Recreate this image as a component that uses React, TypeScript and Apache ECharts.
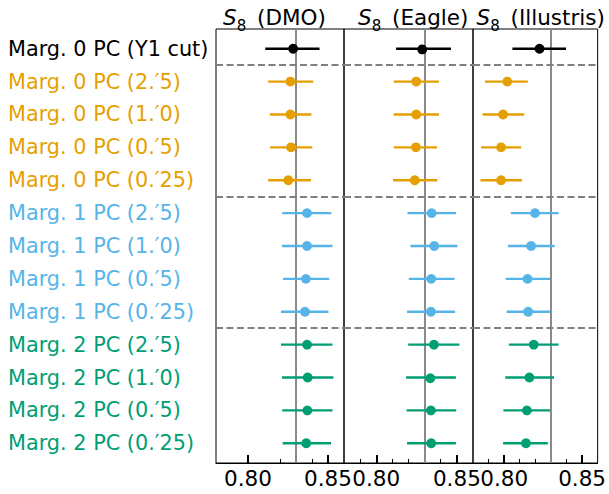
import React, { useEffect, useRef } from "react";
import * as echarts from "echarts";

const rowLabels = [
  "Marg. 0 PC (Y1 cut)",
  "Marg. 0 PC (2.′5)",
  "Marg. 0 PC (1.′0)",
  "Marg. 0 PC (0.′5)",
  "Marg. 0 PC (0.′25)",
  "Marg. 1 PC (2.′5)",
  "Marg. 1 PC (1.′0)",
  "Marg. 1 PC (0.′5)",
  "Marg. 1 PC (0.′25)",
  "Marg. 2 PC (2.′5)",
  "Marg. 2 PC (1.′0)",
  "Marg. 2 PC (0.′5)",
  "Marg. 2 PC (0.′25)",
];
const rowGroup = [0, 1, 1, 1, 1, 2, 2, 2, 2, 3, 3, 3, 3];
const groupColors = ["#000000", "#E69F00", "#56B4E9", "#009E73"];

const panelTitles = ["DMO", "Eagle", "Illustris"];
const fiducial = [0.828, 0.828, 0.828];

const dmoCenter = [0.8282, 0.8265, 0.8265, 0.8269, 0.8252, 0.8369, 0.8369, 0.8362, 0.8356, 0.8369, 0.8373, 0.8371, 0.8364];
const dmoLow = [0.8108, 0.8126, 0.8136, 0.8138, 0.8126, 0.8214, 0.8212, 0.8219, 0.8206, 0.8206, 0.8212, 0.8214, 0.8217];
const dmoHigh = [0.8447, 0.8408, 0.8396, 0.8402, 0.8394, 0.8521, 0.8528, 0.8507, 0.8503, 0.8528, 0.8534, 0.8528, 0.8519];

const eagleCenter = [0.8285, 0.8248, 0.8248, 0.8246, 0.8239, 0.8344, 0.836, 0.8341, 0.8339, 0.8358, 0.8335, 0.8339, 0.8341];
const eagleLow = [0.8123, 0.8108, 0.8108, 0.8108, 0.8104, 0.8194, 0.8212, 0.8202, 0.8191, 0.8198, 0.8185, 0.8188, 0.8191];
const eagleHigh = [0.8463, 0.8389, 0.8389, 0.8377, 0.8379, 0.8494, 0.8504, 0.8485, 0.8489, 0.8516, 0.8494, 0.8496, 0.8494];

const illCenter = [0.8227, 0.802, 0.7993, 0.798, 0.798, 0.8198, 0.8173, 0.815, 0.8154, 0.819, 0.8162, 0.8146, 0.814];
const illLow = [0.8053, 0.7877, 0.7861, 0.7852, 0.7848, 0.8043, 0.8024, 0.801, 0.8016, 0.803, 0.8007, 0.7995, 0.7993];
const illHigh = [0.8397, 0.8152, 0.8129, 0.8109, 0.8115, 0.8349, 0.8324, 0.8295, 0.8297, 0.8349, 0.832, 0.8295, 0.828];

const majorTicks = [0.8, 0.85];
const minorTicksPerPanel = [
  [0.82, 0.84],
  [0.79, 0.81, 0.82, 0.83, 0.84],
  [0.79, 0.81, 0.82, 0.83, 0.84],
];
const separators = [0.5, 4.5, 8.5];

const FONT = "DejaVu Sans";

export default function App() {
  const ref = useRef<HTMLDivElement>(null);
  useEffect(() => {
    if (!ref.current) return;
    const chart = echarts.init(ref.current, null, { renderer: "svg" });
    const panels = [
      { c: dmoCenter, l: dmoLow, h: dmoHigh },
      { c: eagleCenter, l: eagleLow, h: eagleHigh },
      { c: illCenter, l: illLow, h: illHigh },
    ];
    const grids = [
      { left: 216, top: 29, width: 128, height: 434 },
      { left: 344, top: 29, width: 129, height: 434 },
      { left: 473, top: 29, width: 128, height: 434 },
    ];
    const titleLeft = [218, 353, 471.5];
    const rich: any = {};
    groupColors.forEach((c, i) => {
      rich["c" + i] = { color: c, fontSize: 20.8, fontFamily: FONT };
    });
    const xAxes: any[] = [];
    const yAxes: any[] = [];
    const series: any[] = [];
    grids.forEach((g, i) => {
      xAxes.push({
        type: "value",
        gridIndex: i,
        min: 0.78,
        max: 0.86,
        position: "bottom",
        axisLine: { show: true, onZero: false, lineStyle: { color: "#000", width: 1 } },
        axisTick: {
          show: true,
          inside: true,
          length: 8,
          customValues: majorTicks,
          lineStyle: { color: "#000", width: 2 },
        },
        axisLabel: {
          show: true,
          customValues: majorTicks,
          formatter: (v: number) => v.toFixed(2),
          fontSize: 21.5,
          fontFamily: FONT,
          color: "#000",
          margin: 4,
        },
        splitLine: { show: false },
      });
    });
    grids.forEach((g, i) => {
      xAxes.push({
        type: "value",
        gridIndex: i,
        min: 0.78,
        max: 0.86,
        position: "bottom",
        axisLine: { show: false, onZero: false },
        axisTick: {
          show: true,
          inside: true,
          length: 4,
          customValues: minorTicksPerPanel[i],
          lineStyle: { color: "#000", width: 1 },
        },
        axisLabel: { show: false },
        splitLine: { show: false },
      });
    });
    grids.forEach((g, i) => {
      yAxes.push({
        type: "value",
        gridIndex: i,
        min: -0.6,
        max: 12.6,
        inverse: true,
        axisLine: { show: false, onZero: false },
        axisTick: { show: false },
        splitLine: { show: false },
        axisLabel:
          i === 0
            ? {
                show: true,
                customValues: rowLabels.map((_, k) => k),
                align: "left",
                margin: 208,
                formatter: (v: number) => {
                  const k = Math.round(v);
                  return `{c${rowGroup[k]}|${rowLabels[k]}}`;
                },
                rich,
              }
            : { show: false },
      });
    });
    panels.forEach((p, i) => {
      series.push({
        type: "scatter",
        xAxisIndex: i,
        yAxisIndex: i,
        data: [],
        z: 1,
        silent: true,
        markLine: {
          silent: true,
          symbol: "none",
          animation: false,
          label: { show: false },
          data: [
            { xAxis: fiducial[i], lineStyle: { color: "#8a8a8a", width: 2, type: "solid" } },
            ...separators.map((s) => ({
              yAxis: s,
              lineStyle: { color: "#808080", width: 2, type: [7, 3.5] },
            })),
          ],
        },
      });
      series.push({
        type: "custom",
        xAxisIndex: i,
        yAxisIndex: i,
        z: 5,
        encode: { x: [0, 1, 2], y: 3 },
        data: p.c.map((c, r) => [c, p.l[r], p.h[r], r]),
        renderItem: (params: any, api: any) => {
          const c = api.value(0);
          const lo = api.value(1);
          const hi = api.value(2);
          const r = api.value(3);
          const color = groupColors[rowGroup[r]];
          const a = api.coord([lo, r]);
          const b = api.coord([hi, r]);
          const m = api.coord([c, r]);
          return {
            type: "group",
            children: [
              {
                type: "line",
                shape: { x1: a[0], y1: a[1], x2: b[0], y2: b[1] },
                style: { stroke: color, lineWidth: 2.3 },
              },
              {
                type: "circle",
                shape: { cx: m[0], cy: m[1], r: 4.9 },
                style: { fill: color, stroke: "none" },
              },
            ],
          };
        },
      });
    });
    const base = { fontFamily: FONT, color: "#000", fontWeight: "normal" };
    const titles = grids.map((g, i) => ({
      text: `{i|S}{s|8}{n| (${panelTitles[i]})}`,
      left: titleLeft[i],
      top: 1,
      textAlign: "left",
      textStyle: {
        fontWeight: "normal",
        rich: {
          i: { ...base, fontSize: 21.5, fontStyle: "italic", lineHeight: 24, verticalAlign: "top" },
          s: { ...base, fontSize: 15, lineHeight: 15, verticalAlign: "top", padding: [12, 4, 0, 0] },
          n: { ...base, fontSize: 21.5, lineHeight: 24, verticalAlign: "top" },
        },
      },
    }));
    chart.setOption({
      animation: false,
      backgroundColor: "#ffffff",
      title: titles,
      grid: grids.map((g) => ({ ...g, show: true, borderColor: "#000", borderWidth: 1, backgroundColor: "transparent" })),
      xAxis: xAxes,
      yAxis: yAxes,
      series,
    });
    return () => chart.dispose();
  }, []);
  return (
    <div
      ref={ref}
      style={{ position: "fixed", left: 0, top: 0, width: 609, height: 494, background: "#fff" }}
    />
  );
}
